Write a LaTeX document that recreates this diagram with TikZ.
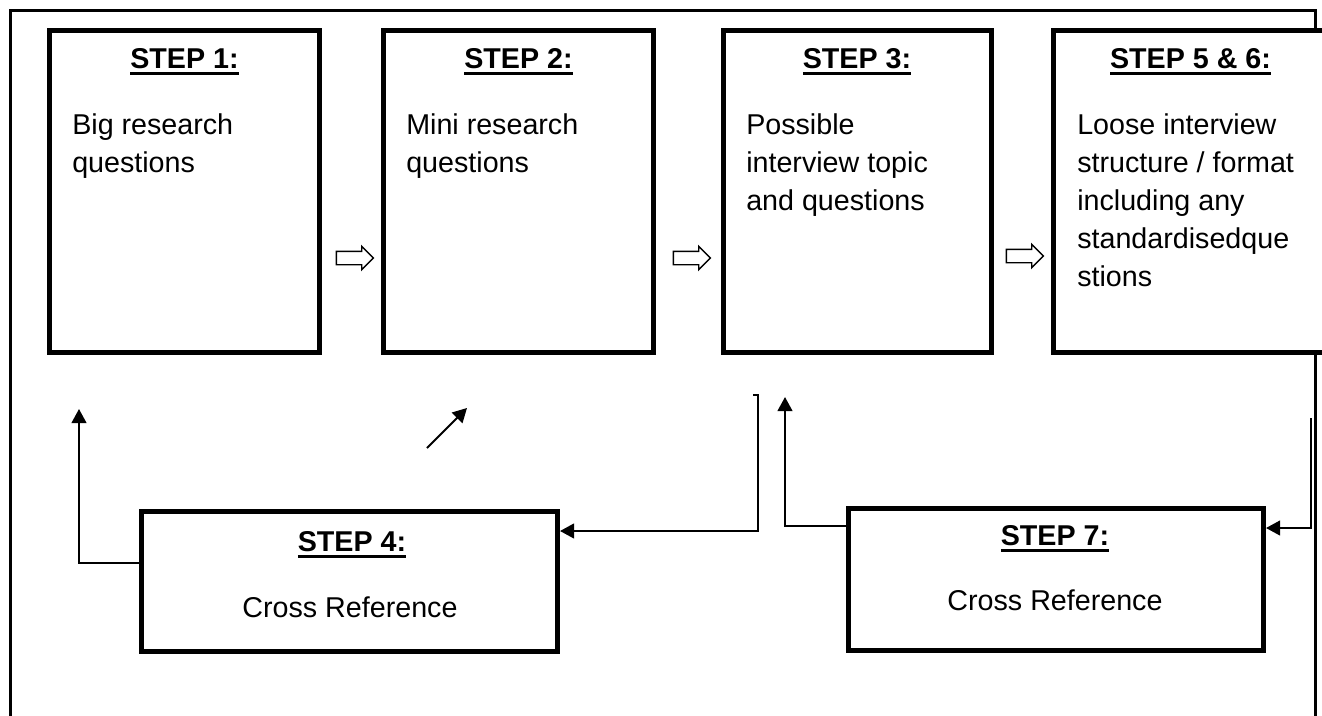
\documentclass[tikz,border=0pt]{standalone}
\usepackage{fontspec}
\setmainfont{Liberation Sans}
\usetikzlibrary{shapes.arrows, arrows.meta, fit}

% underlined step heading
\newcommand{\stepul}[1]{\setbox0\hbox{#1}\rlap{\rule[-5.25pt]{\wd0}{2.25pt}}\box0}

\tikzset{
  stepbox/.style={draw, line width=3.75pt, fill=white, inner sep=0pt},
  stepttl/.style={font=\fontsize{21.5}{28.5}\selectfont\bfseries, anchor=base, inner sep=0pt},
  steptxt/.style={font=\fontsize{21.5}{28.5}\selectfont, align=left, anchor=base west, inner sep=0pt},
  crossref/.style={font=\fontsize{21.5}{28.5}\selectfont, anchor=base, inner sep=0pt},
  hollow/.style={single arrow, draw, line width=1pt, inner sep=0pt, text height=4.5pt, text depth=4.5pt,
    minimum height=27.75pt, minimum width=16.5pt, single arrow head extend=3.75pt, single arrow tip angle=90},
  link/.style={line width=1.5pt, -{Triangle[length=10.5pt,width=11pt]}}
}

\begin{document}
\begin{tikzpicture}[x=0.75pt, y=-0.75pt]
        \clip (0,0) rectangle (1322,715);
        \fill[white] (0,0) rectangle (1322,715);
        % Outer frame
        \draw[line width=2.25pt] (10,720) -- (10,10) -- (1315,10) -- (1315,720);

        % Top row of steps
        \node[stepbox, fit={(49.5,30) (319.5,352.5)}] (s1) {};
        \node[stepbox, fit={(383.5,30) (653.5,352.5)}] (s2) {};
        \node[stepbox, fit={(723.5,30) (991,352.5)}] (s3) {};
        \node[stepbox, fit={(1053.5,30) (1330,352.5)}] (s56) {};

        \node[stepttl] (h1) at (184.5,68) {\stepul{STEP 1:}};
        \node[stepttl] (h2) at (518.5,68) {\stepul{STEP 2:}};
        \node[stepttl] (h3) at (857,68) {\stepul{STEP 3:}};
        \node[stepttl] (h56) at (1190.5,68) {\stepul{STEP 5 \& 6:}};

        % body text: base anchor sits on the last line
        \node[steptxt] (x1) at (72,172) {Big research\\questions};
        \node[steptxt] (x2) at (406,172) {Mini research\\questions};
        \node[steptxt] (x3) at (746,210) {Possible\\interview topic\\and questions};
        \node[steptxt] (x56) at (1077,286) {Loose interview\\structure / format\\including any\\standardisedque\\stions};

        % Hollow arrows between steps
        \node[hollow] (p1) at (351.5,258) {};
        \node[hollow] (p2) at (688.5,258) {};
        \node[hollow] (p3) at (1021.5,256) {};

        % Bottom row of steps
        \node[stepbox, fit={(141.5,511.5) (557.5,651.5)}] (s4) {};
        \node[stepbox, fit={(848,508.5) (1263.5,650)}] (s7) {};

        \node[stepttl] (h4) at (352,551) {\stepul{STEP 4:}};
        \node[stepttl] (h7) at (1055,545) {\stepul{STEP 7:}};
        \node[crossref] (r4) at (350,617) {Cross Reference};
        \node[crossref] (r7) at (1055,610) {Cross Reference};

        % Connectors
        \coordinate (t1) at (79,409);
        \coordinate (c1) at (79,563);
        \draw[link] (s4.west |- c1) -- (c1) -- (t1);

        \coordinate (d0) at (427,448);
        \coordinate (d1) at (467,408);
        \draw[link] (d0) -- (d1);

        \coordinate (b0) at (753,395);
        \coordinate (b1) at (758,395);
        \coordinate (b2) at (758,531);
        \draw[link] (b0) -- (b1) -- (b2) -- (s4.east |- b2);

        \coordinate (t2) at (785,397);
        \coordinate (c2) at (785,526);
        \draw[link] (s7.west |- c2) -- (c2) -- (t2);

        \coordinate (q0) at (1311,418);
        \coordinate (q1) at (1311,528);
        \draw[link] (q0) -- (q1) -- (s7.east |- q1);
    \end{tikzpicture}
\end{document}
